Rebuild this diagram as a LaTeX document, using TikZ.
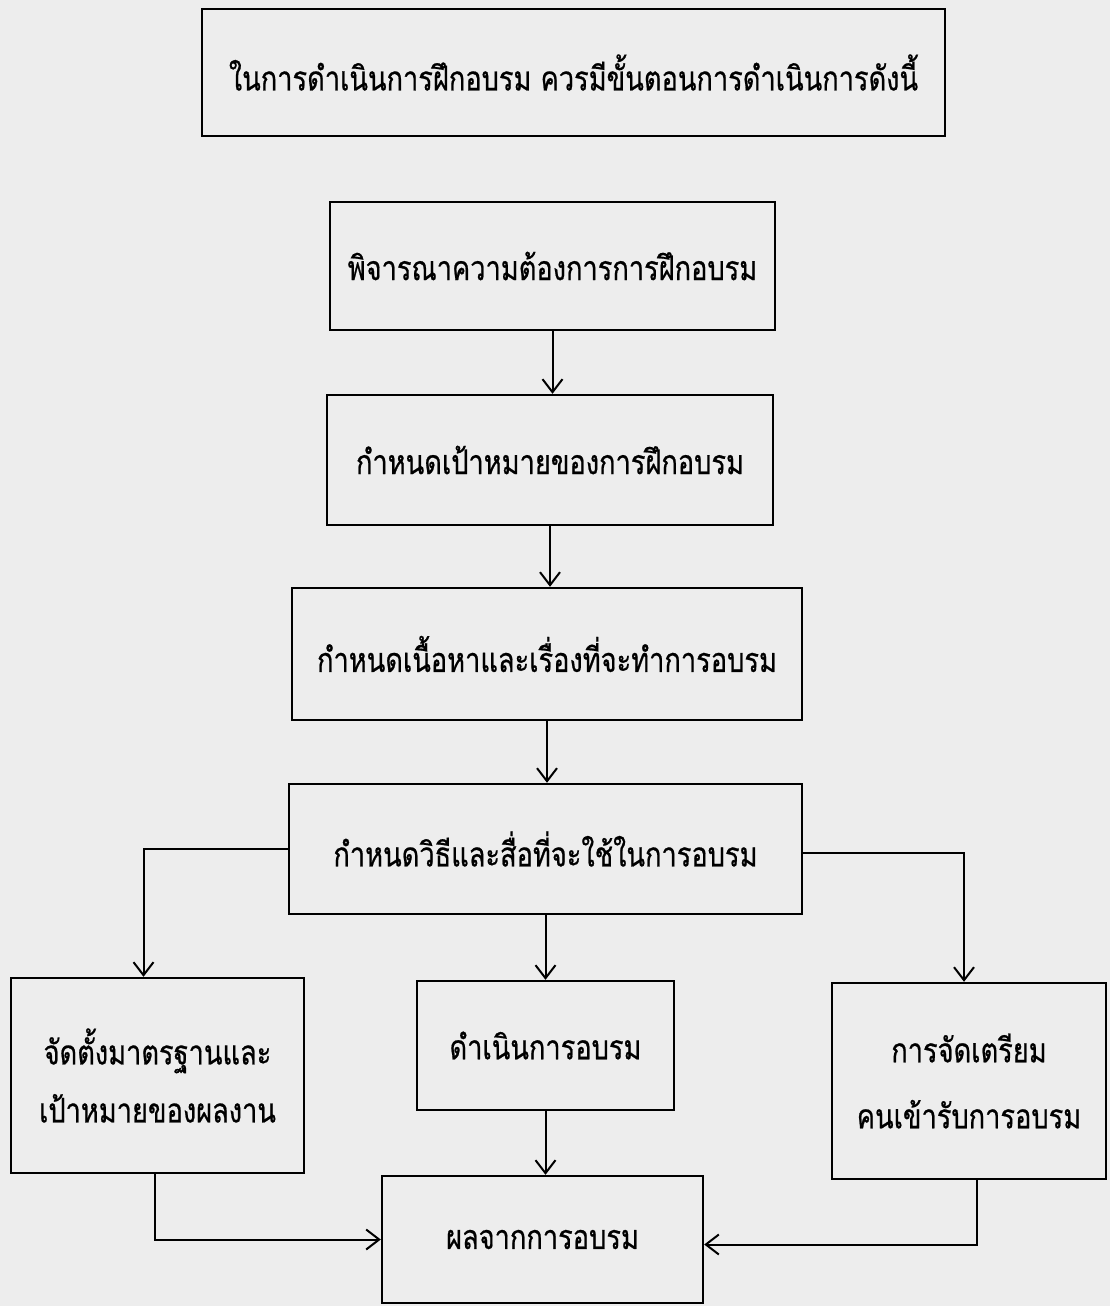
\documentclass[tikz,border=0pt]{standalone}
\usepackage{fontspec}
\newfontfamily\thaifont[Script=Thai,FakeStretch=0.80,FakeBold=0.6]{Loma}
\usetikzlibrary{arrows.meta}
\definecolor{paper}{gray}{0.93}
\begin{document}
\begin{tikzpicture}[x=1pt,y=-1pt,
  box/.style={draw=black, line width=2.4pt, inner sep=0pt, font=\thaifont\fontsize{34}{62}\selectfont, align=center},
  arr/.style={line width=2pt, -{Straight Barb[length=13pt,width=20pt,line width=2pt]}}]
\useasboundingbox[fill=paper] (0,0) rectangle (1110,1306);
\node[box, minimum width=743pt, minimum height=127pt] (t) at (573.5,72.5) {ในการดำเนินการฝึกอบรม ควรมีขั้นตอนการดำเนินการดังนี้};
\node[box, minimum width=445pt, minimum height=128pt] (b1) at (552.5,266) {พิจารณาความต้องการการฝึกอบรม};
\node[box, minimum width=446pt, minimum height=130pt] (b2) at (550,460) {กำหนดเป้าหมายของการฝึกอบรม};
\node[box, minimum width=510pt, minimum height=132pt] (b3) at (547,654) {กำหนดเนื้อหาและเรื่องที่จะทำการอบรม};
\node[box, minimum width=513pt, minimum height=130pt] (b4) at (545.5,849) {กำหนดวิธีและสื่อที่จะใช้ในการอบรม};
\node[box, minimum width=293pt, minimum height=195pt] (b5) at (157.5,1075.5) {จัดตั้งมาตรฐานและ\\[-4pt]เป้าหมายของผลงาน};
\node[box, minimum width=257pt, minimum height=129pt] (b6) at (545.5,1045.5) {ดำเนินการอบรม};
\node[box, minimum width=274pt, minimum height=196pt] (b7) at (969,1081) {การจัดเตรียม\\[4pt]คนเข้ารับการอบรม};
\node[box, minimum width=321pt, minimum height=127pt] (b8) at (542.5,1239.5) {ผลจากการอบรม};
\draw[arr] (b1.south) -- (b1.south |- b2.north);
\draw[arr] (b2.south) -- (b2.south |- b3.north);
\draw[arr] (b3.south) -- (b3.south |- b4.north);
\draw[arr] (b4.west) -| ([xshift=-14pt]b5.north);
\draw[arr] ([yshift=-4pt]b4.east) -| ([xshift=-5pt]b7.north);
\draw[arr] (b4.south) -- (b4.south |- b6.north);
\draw[arr] (b6.south) -- (b6.south |- b8.north);
\draw[arr] ([xshift=-3pt]b5.south) |- (b8.west);
\draw[arr] ([xshift=8pt]b7.south) |- ([yshift=-5pt]b8.east);
\end{tikzpicture}
\end{document}
